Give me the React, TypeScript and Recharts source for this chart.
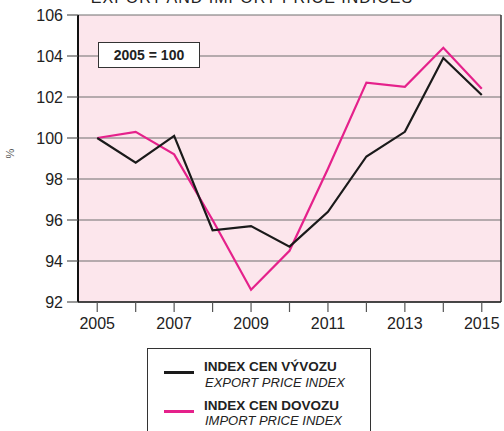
import React from "react";
import { LineChart, Line, XAxis, YAxis, CartesianGrid, ReferenceLine } from "recharts";

const years = [2005, 2006, 2007, 2008, 2009, 2010, 2011, 2012, 2013, 2014, 2015];
const exportIndex = [100, 98.8, 100.1, 95.5, 95.7, 94.7, 96.4, 99.1, 100.3, 103.9, 102.1];
const importIndex = [100, 100.3, 99.2, 96.0, 92.6, 94.5, 98.5, 102.7, 102.5, 104.4, 102.4];
const yTicks = [92, 94, 96, 98, 100, 102, 104, 106];
const labeledYears = [2005, 2007, 2009, 2011, 2013, 2015];

const data = years.map((y, i) => ({ year: y, exp: exportIndex[i], imp: importIndex[i] }));

const FONT = "'Liberation Sans', Arial, sans-serif";
const PINK = "#e5218b";

export default function App() {
  return (
    <div style={{ position: "fixed", top: 0, left: 0, width: 504, height: 431, overflow: "hidden", background: "#fff", fontFamily: FONT }}>
      <div style={{ position: "absolute", top: -11, left: 0, width: 504, textAlign: "center", fontSize: 16, lineHeight: "17px", color: "#222", letterSpacing: 1 }}>
        EXPORT AND IMPORT PRICE INDICES
      </div>
      <div style={{ position: "absolute", left: 0, top: 0 }}>
        <LineChart width={504} height={431} data={data} margin={{ top: 15, right: 3, bottom: 99, left: 0 }}>
          <CartesianGrid vertical={false} stroke="#6e6e6e" strokeWidth={1} fill="#fce6ec" fillOpacity={1} />
          <XAxis
            dataKey="year"
            type="number"
            domain={[2004.5, 2015.5]}
            ticks={years}
            interval={0}
            height={30}
            tickFormatter={(v: number) => (labeledYears.includes(v) ? String(v) : "")}
            axisLine={{ stroke: "#222", strokeWidth: 1.5 }}
            tickLine={{ stroke: "#555", strokeWidth: 1.2 }}
            tickSize={10}
            tick={{ fill: "#222", fontSize: 16, fontFamily: FONT, dy: 4 }}
          />
          <YAxis
            type="number"
            domain={[92, 106]}
            ticks={yTicks}
            interval={0}
            width={78}
            axisLine={{ stroke: "#111", strokeWidth: 2 }}
            tickLine={{ stroke: "#555", strokeWidth: 1.2 }}
            tickSize={11}
            tick={{ fill: "#222", fontSize: 16, fontFamily: FONT, dx: -2 }}
            label={{ value: "%", angle: -90, position: "insideLeft", offset: 10, fill: "#555", fontSize: 11, fontFamily: FONT }}
          />
          <ReferenceLine x={2015.5} stroke="#333" strokeWidth={1.5} />
          <Line type="linear" dataKey="imp" stroke={PINK} strokeWidth={2.2} dot={false} isAnimationActive={false} />
          <Line type="linear" dataKey="exp" stroke="#1a1a1a" strokeWidth={2.2} dot={false} isAnimationActive={false} />
        </LineChart>
      </div>
      <div style={{ position: "absolute", left: 98, top: 42, width: 102, height: 26, background: "#fff", border: "1px solid #333", boxSizing: "border-box", fontSize: 14, fontWeight: "bold", color: "#222", display: "flex", alignItems: "center", justifyContent: "center" }}>
        2005 = 100
      </div>
      <div style={{ position: "absolute", left: 147, top: 348, width: 224, height: 100, border: "1px solid #333", boxSizing: "border-box", background: "#fff" }}>
        <div style={{ position: "absolute", left: 16, top: 22, width: 30, height: 3, background: "#1a1a1a" }} />
        <div style={{ position: "absolute", left: 56, top: 10, fontSize: 13.5, fontWeight: "bold", color: "#222", lineHeight: "16px", whiteSpace: "nowrap" }}>INDEX CEN VÝVOZU</div>
        <div style={{ position: "absolute", left: 57, top: 26, fontSize: 13, fontStyle: "italic", color: "#222", lineHeight: "16px", whiteSpace: "nowrap" }}>EXPORT PRICE INDEX</div>
        <div style={{ position: "absolute", left: 16, top: 61, width: 30, height: 3, background: PINK }} />
        <div style={{ position: "absolute", left: 56, top: 49, fontSize: 13.5, fontWeight: "bold", color: "#222", lineHeight: "16px", whiteSpace: "nowrap" }}>INDEX CEN DOVOZU</div>
        <div style={{ position: "absolute", left: 57, top: 64, fontSize: 13, fontStyle: "italic", color: "#222", lineHeight: "16px", whiteSpace: "nowrap" }}>IMPORT PRICE INDEX</div>
      </div>
    </div>
  );
}
